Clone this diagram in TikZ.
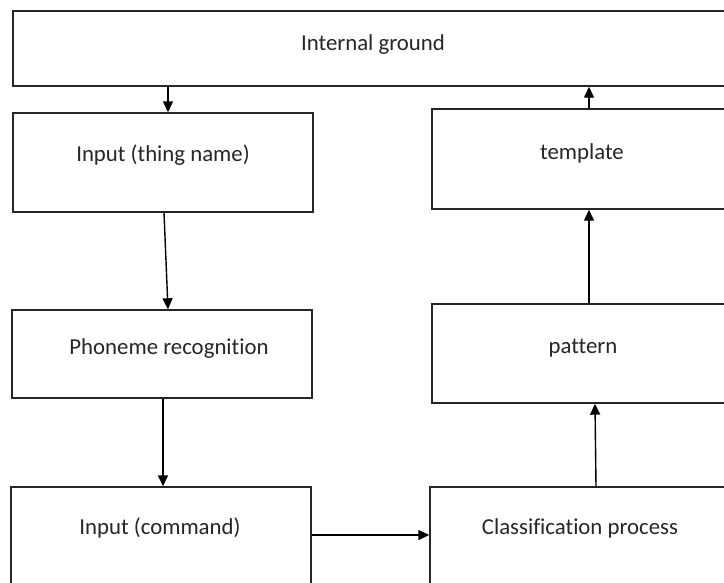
\documentclass[tikz,border=0pt]{standalone}
\usepackage{fontspec}
\setmainfont{Carlito}[Ligatures=NoCommon]
\usetikzlibrary{arrows.meta}
\tikzset{
  box/.style={draw=black!85, line width=1.4pt, rectangle, inner sep=0pt, fill=none},
  txt/.style={font=\fontsize{22.8}{27}\selectfont, text=black!85, inner sep=0pt, text height=0.7em, text depth=0.2em},
  arr/.style={draw=black, line width=1.4pt, -{Triangle[length=11pt,width=10pt]}}
}
\begin{document}
\begin{tikzpicture}[x=1pt,y=-1pt]
\useasboundingbox (0,0) rectangle (724,582);
\fill[white] (0,0) rectangle (724,582);
\clip (0,0) rectangle (724,582);
% boxes
\node[box, minimum width=722pt, minimum height=75pt] (ig) at (374,48.5) {};
\node[box, minimum width=300pt, minimum height=99pt] (thing) at (163,162.5) {};
\node[box, minimum width=300pt, minimum height=88pt] (phon) at (162,354) {};
\node[box, minimum width=300pt, minimum height=120pt] (cmd) at (161,547) {};
\node[box, minimum width=310pt, minimum height=100pt] (tpl) at (587,159) {};
\node[box, minimum width=310pt, minimum height=99pt] (pat) at (587,353.5) {};
\node[box, minimum width=312pt, minimum height=120pt] (cls) at (586,547) {};
% texts
\node[txt] (igt) at (373,47.5) {Internal ground};
\node[txt] (thingt) at (163,158.5) {Input (thing name)};
\node[txt] (phont) at (169,351.5) {Phoneme recognition};
\node[txt] (cmdt) at (160,531.5) {Input (command)};
\node[txt] (tplt) at (582,156.5) {template};
\node[txt] (patt) at (583,350.5) {pattern};
\node[txt] (clst) at (580,531.5) {Classification process};
% helper coordinates
\coordinate (xa) at (168,0);
\coordinate (xb) at (164,0);
\coordinate (xc) at (168,0);
\coordinate (xd) at (163,0);
\coordinate (ya) at (0,535);
\coordinate (xe) at (596,0);
\coordinate (xf) at (595,0);
\coordinate (xg) at (589,0);
% connectors
\draw[arr] (ig.south -| xa) -- (thing.north -| xa);
\draw[arr] (thing.south -| xb) -- (phon.north -| xc);
\draw[arr] (phon.south -| xd) -- (cmd.north -| xd);
\draw[arr] (cmd.east |- ya) -- (cls.west |- ya);
\draw[arr] (cls.north -| xe) -- (pat.south -| xf);
\draw[arr] (pat.north -| xg) -- (tpl.south -| xg);
\draw[arr] (tpl.north -| xg) -- (ig.south -| xg);
\end{tikzpicture}
\end{document}
